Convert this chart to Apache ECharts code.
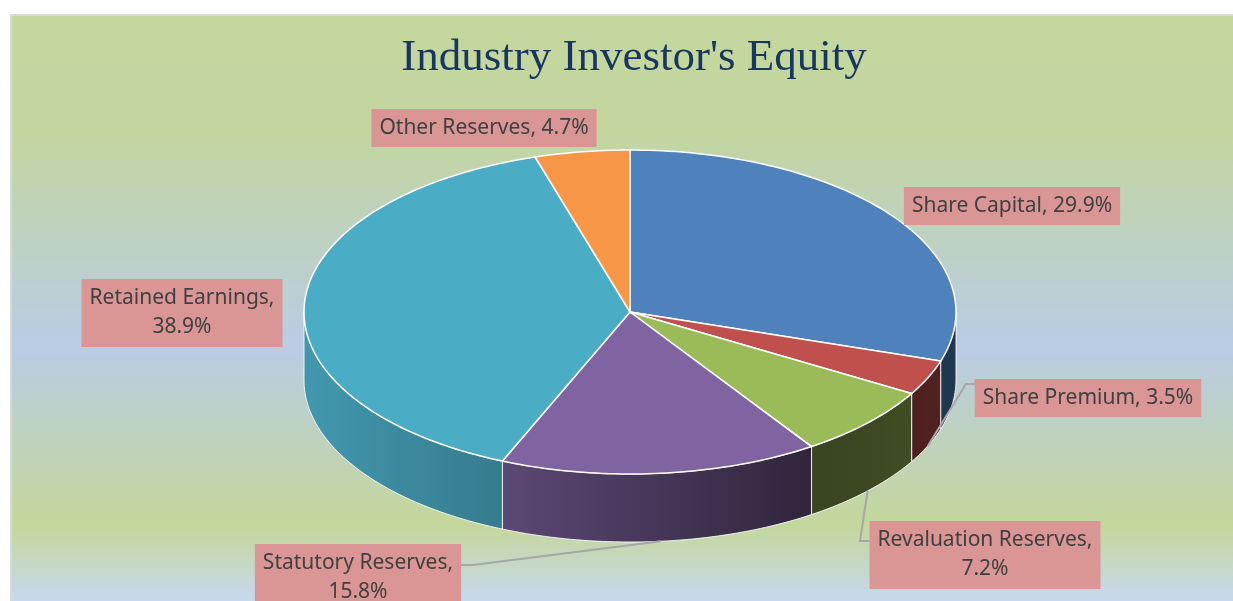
<!DOCTYPE html>
<html>
<head>
<meta charset="utf-8">
<style>
  html, body { margin: 0; padding: 0; background: #fff; }
  #main { width: 1233px; height: 601px; }
</style>
<script src="https://cdn.jsdelivr.net/npm/echarts@6/dist/echarts.min.js"></script>
</head>
<body>
<div id="main"></div>
<script>
// data
const categories = ['Share Capital', 'Share Premium', 'Revaluation Reserves', 'Statutory Reserves', 'Retained Earnings', 'Other Reserves'];
const values = [29.9, 3.5, 7.2, 15.8, 38.9, 4.7];
const colors = ['#4f81bd', '#c0504d', '#9bbb59', '#8064a2', '#4bacc6', '#f79646'];

// label boxes were placed by hand in the original, so keep them here
// cx/cy = box centre, elbow = bend of leader line, edge = where line meets box
const labelLayout = [
  { cx: 1012, cy: 206, wrap: false },
  { cx: 1088, cy: 398, wrap: false, elbow: [966, 384], edge: [976, 384] },
  { cx: 985, cy: 555, wrap: true, elbow: [860, 541], edge: [870, 541] },
  { cx: 358, cy: 578, wrap: true, elbow: [473, 565], edge: [461, 565] },
  { cx: 182, cy: 313, wrap: true },
  { cx: 484, cy: 128, wrap: false }
];

// 3d pie geometry
const pie = { cx: 630, cy: 312, rx: 326, ry: 162, depth: 68 };
const total = values.reduce((a, b) => a + b, 0);

function rim(t, dy) {
  return [pie.cx + pie.rx * Math.sin(t), pie.cy - pie.ry * Math.cos(t) + (dy || 0)];
}

function arcPts(a1, a2, dy) {
  let n = Math.max(2, Math.ceil(Math.abs(a2 - a1) / 0.02));
  let pts = [];
  for (let k = 0; k <= n; k++) {
    pts.push(rim(a1 + (a2 - a1) * k / n, dy));
  }
  return pts;
}

// how dark the side wall is, by horizontal position
const shadeStops = [[0, 0.88], [0.3, 0.72], [0.78, 0.37], [1, 0.42]];
function shadeFactor(x) {
  let t = (x - (pie.cx - pie.rx)) / (2 * pie.rx);
  t = Math.max(0, Math.min(1, t));
  for (let i = 1; i < shadeStops.length; i++) {
    if (t <= shadeStops[i][0]) {
      let p = shadeStops[i - 1], q = shadeStops[i];
      return p[1] + (q[1] - p[1]) * (t - p[0]) / (q[0] - p[0]);
    }
  }
  return shadeStops[shadeStops.length - 1][1];
}
function darken(hex, f) {
  let c = echarts.color.parse(hex);
  return 'rgb(' + Math.round(c[0] * f) + ',' + Math.round(c[1] * f) + ',' + Math.round(c[2] * f) + ')';
}

function renderItem(params, api) {
  let i = params.dataIndex;
  let v = api.value(0);
  let before = 0;
  for (let k = 0; k < i; k++) before += values[k];
  let a1 = before / total * Math.PI * 2;
  let a2 = (before + v) / total * Math.PI * 2;
  let children = [];

  // front wall
  let s = Math.max(a1, Math.PI / 2), e = Math.min(a2, Math.PI * 1.5);
  if (s < e) {
    let pts = arcPts(s, e, 0).concat(arcPts(e, s, pie.depth));
    let x0 = rim(e)[0], x1 = rim(s)[0];
    let stops = [];
    for (let k = 0; k <= 6; k++) {
      let x = x0 + (x1 - x0) * k / 6;
      stops.push({ offset: k / 6, color: darken(colors[i], shadeFactor(x)) });
    }
    children.push({
      type: 'polygon',
      shape: { points: pts },
      style: {
        fill: new echarts.graphic.LinearGradient(x0, 0, x1, 0, stops, true),
        stroke: 'rgba(255,255,255,0.85)',
        lineWidth: 1
      }
    });
  }

  // top face
  children.push({
    type: 'polygon',
    shape: { points: [[pie.cx, pie.cy]].concat(arcPts(a1, a2, 0)) },
    style: { fill: colors[i], stroke: '#fff', lineWidth: 1.5 }
  });

  // label + leader
  let lay = labelLayout[i];
  let pct = v.toFixed(1) + '%';
  let txt = categories[i] + (lay.wrap ? ',\n' : ', ') + pct;
  if (lay.elbow) {
    let mid = rim((a1 + a2) / 2, pie.depth);
    children.push({
      type: 'polyline',
      shape: { points: [mid, lay.elbow, lay.edge] },
      style: { stroke: '#a6a6a6', lineWidth: 2, fill: null }
    });
  }
  children.push({
    type: 'text',
    style: {
      text: txt,
      x: lay.cx,
      y: lay.cy,
      align: 'center',
      verticalAlign: 'middle',
      font: '21px "Noto Sans"',
      lineHeight: 29,
      fill: '#404040',
      backgroundColor: '#d99694',
      padding: lay.wrap ? [5, 8, 5, 8] : [5, 8, 4, 8]
    }
  });

  return { type: 'group', children: children };
}

const chart = echarts.init(document.getElementById('main'), null, { renderer: 'canvas' });
chart.setOption({
  animation: false,
  title: {
    text: "Industry Investor's Equity",
    left: 629,
    top: 31,
    textAlign: 'center',
    textStyle: {
      fontFamily: 'Liberation Serif',
      fontSize: 45,
      fontWeight: 'normal',
      color: '#17375e'
    }
  },
  graphic: [{
    type: 'rect',
    z: -10,
    shape: { x: 11, y: 15, width: 1240, height: 600 },
    style: {
      fill: new echarts.graphic.LinearGradient(0, 0, 0, 1, [
        { offset: 0, color: '#c4d79e' },
        { offset: 0.2, color: '#c3d6a0' },
        { offset: 0.55, color: '#b9cce4' },
        { offset: 0.85, color: '#c4d79b' },
        { offset: 0.97, color: '#c8d8ec' },
        { offset: 1, color: '#c8d8ee' }
      ]),
      stroke: '#d9d9d9',
      lineWidth: 2
    }
  }],
  series: [{
    type: 'custom',
    coordinateSystem: 'none',
    silent: true,
    data: values.map((v, i) => ({ name: categories[i], value: [v, i] })),
    renderItem: renderItem
  }]
});
</script>
</body>
</html>
